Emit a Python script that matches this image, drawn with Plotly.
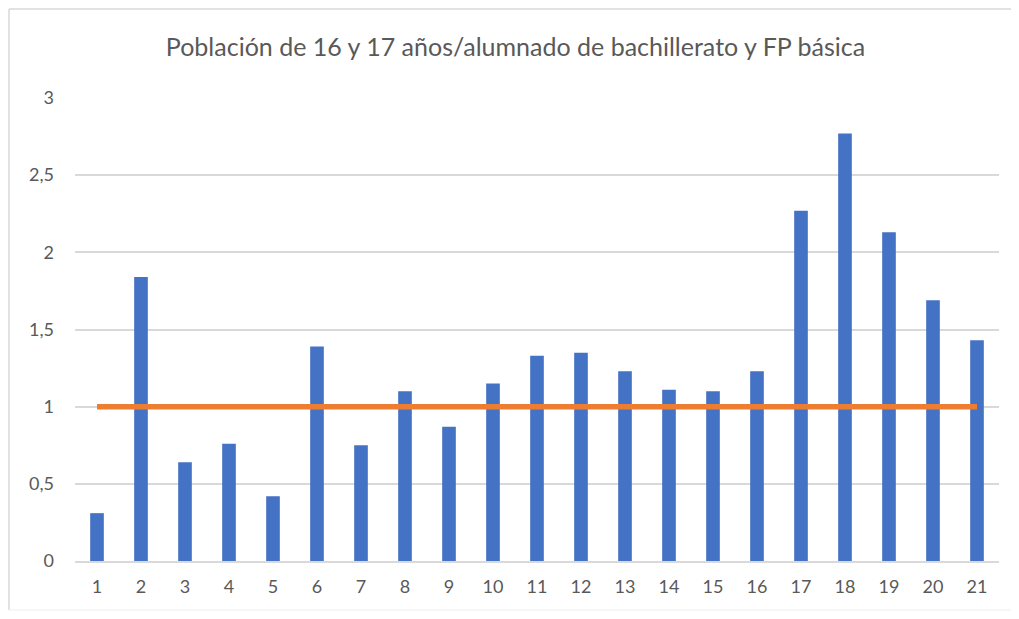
import plotly.graph_objects as go

categories = [str(i) for i in range(1, 22)]
ratio_values = [0.31, 1.84, 0.64, 0.76, 0.42, 1.39, 0.75, 1.10, 0.87, 1.15,
                1.33, 1.35, 1.23, 1.11, 1.10, 1.23, 2.27, 2.77, 2.13, 1.69, 1.43]
reference_values = [1.0] * 21
y_tickvals = [0, 0.5, 1, 1.5, 2, 2.5, 3]
y_ticktext = ["0", "0,5", "1", "1,5", "2", "2,5", "3"]
title_text = "Población de 16 y 17 años/alumnado de bachillerato y FP básica"

BLUE = "#4472C4"
ORANGE = "#ED7D31"
GRID = "#D9D9D9"
TEXT = "#595959"
FONT = "Lato"

fig = go.Figure()
fig.add_trace(go.Bar(x=categories, y=ratio_values, marker=dict(color=BLUE, line=dict(width=0)),
                     hoverinfo="x+y", showlegend=False))
fig.add_trace(go.Scatter(x=categories, y=reference_values, mode="lines",
                         line=dict(color=ORANGE, width=5.5), showlegend=False))

# page body has an 8px default margin, so the figure is sized/offset to compensate
W, H = 1003, 603
bx0, bx1 = -66 / 924, 1.05
by0, by1 = -49 / 463, 1 + 89 / 463
border = dict(color=GRID, width=1.5)
fig.update_layout(
    width=W, height=H,
    margin=dict(l=67, r=12, t=90, b=50),
    paper_bgcolor="white", plot_bgcolor="white",
    bargap=0.69,
    font=dict(family=FONT, color=TEXT, size=18),
    title=dict(text=title_text, x=507.5 / W, xanchor="center", y=1 - 39 / H, yanchor="middle",
               font=dict(family=FONT, size=25, color=TEXT)),
    xaxis=dict(type="category", showgrid=False, showline=True, linecolor=GRID, linewidth=1.5,
               ticks="", tickfont=dict(size=18, color=TEXT), zeroline=False,
               ticklabelstandoff=9),
    yaxis=dict(range=[0, 3], tickvals=y_tickvals, ticktext=y_ticktext, showgrid=True,
               gridcolor=GRID, gridwidth=1.5, zeroline=False, showline=False, ticks="",
               ticklabelstandoff=20, tickfont=dict(size=18, color=TEXT)),
    shapes=[
        dict(type="line", xref="paper", yref="paper", x0=bx0, x1=bx0, y0=by0, y1=by1,
             line=border, layer="below"),
        dict(type="line", xref="paper", yref="paper", x0=bx0, x1=bx1, y0=by1, y1=by1,
             line=border, layer="below"),
        dict(type="line", xref="paper", yref="paper", x0=bx0, x1=bx1, y0=by0, y1=by0,
             line=dict(color="#EEEEEE", width=1), layer="below"),
    ],
)

fig.write_html("out.html")
